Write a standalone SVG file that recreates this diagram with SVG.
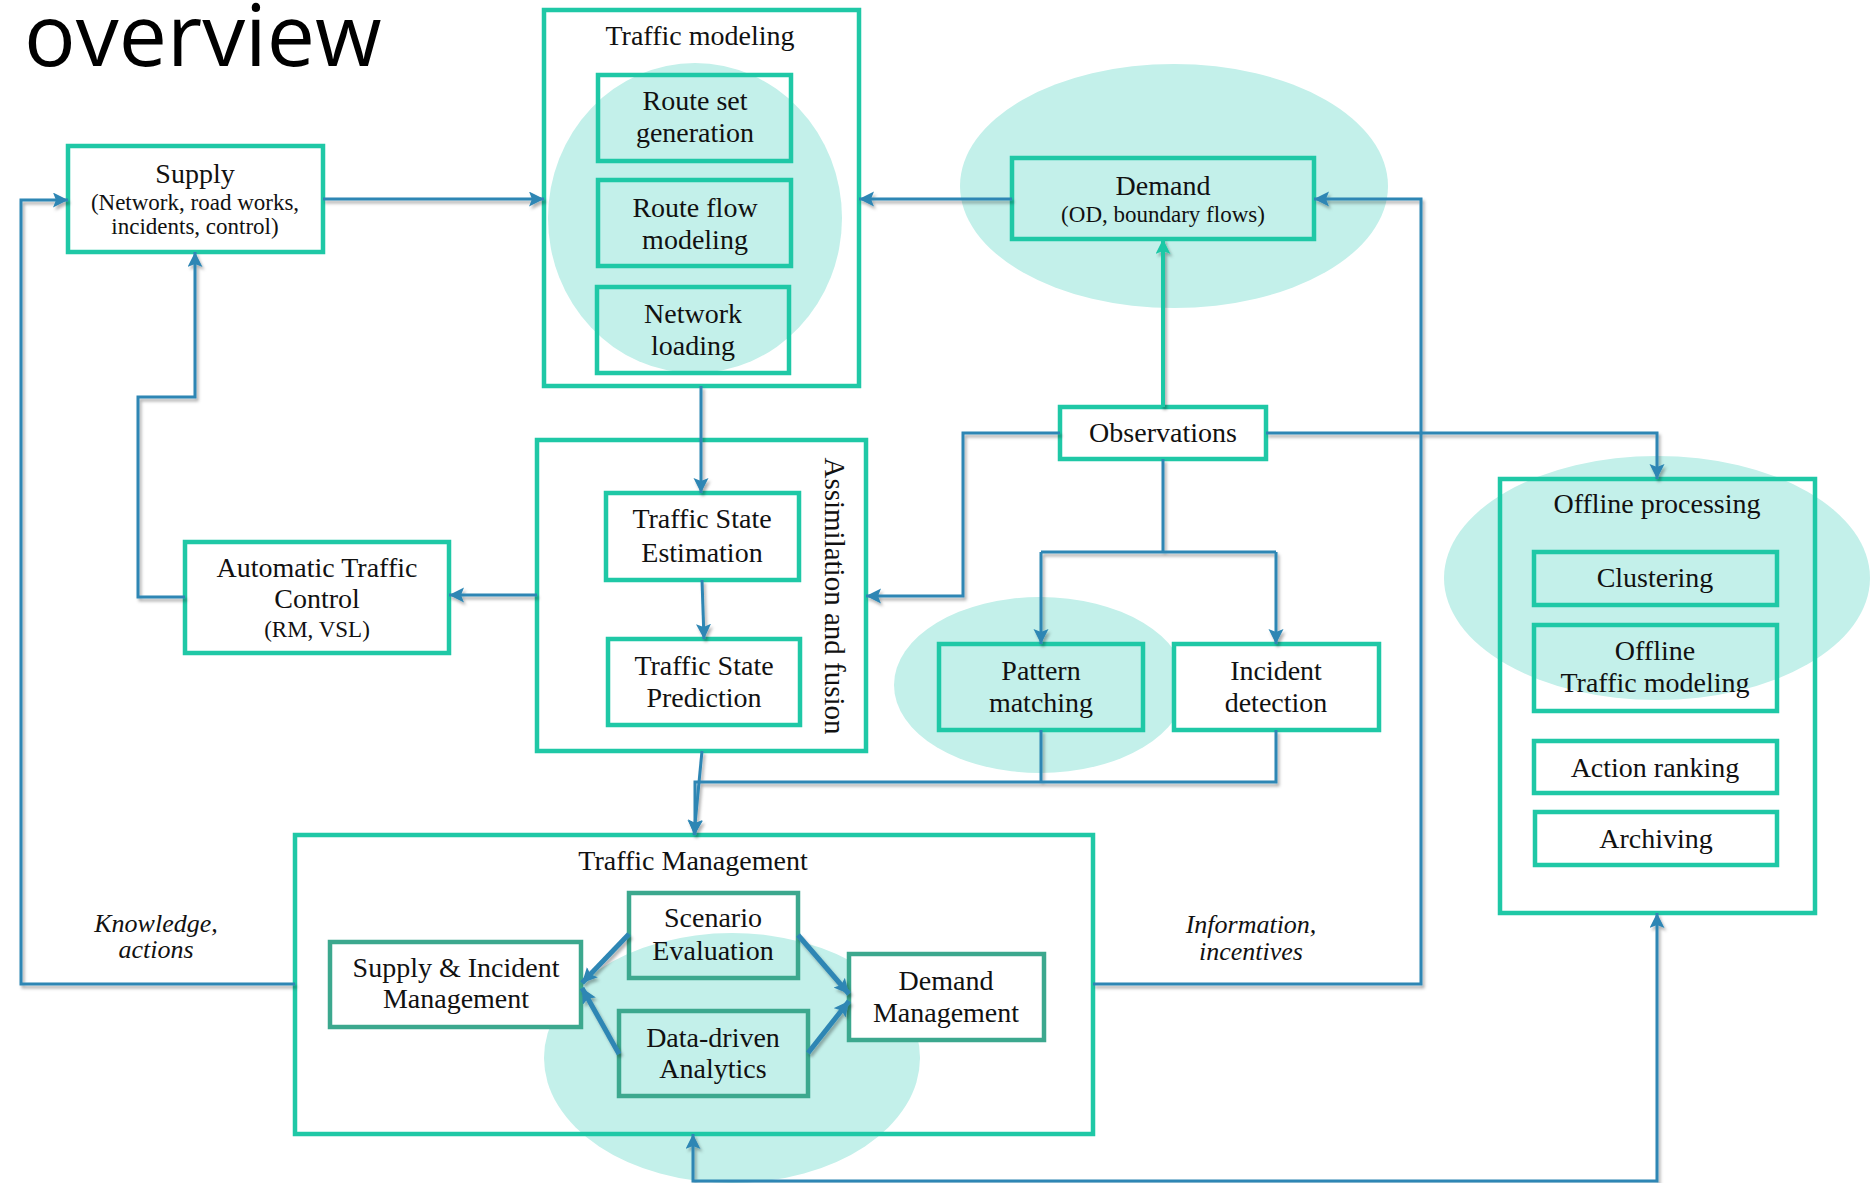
<svg xmlns="http://www.w3.org/2000/svg" width="1875" height="1183" viewBox="0 0 1875 1183">
<style>
.box{fill:none;stroke:#1FC8A6;stroke-width:4.5}
.boxw{fill:#fff;stroke:#1FC8A6;stroke-width:4.5}
.dbox{fill:none;stroke:#3CA88E;stroke-width:4.5}
.dboxw{fill:#fff;stroke:#3CA88E;stroke-width:4.5}
.hl{fill:#C3F0EA}
.t{font-family:"Liberation Serif","Times New Roman",serif;font-size:28px;fill:#111;text-anchor:middle}
.s{font-size:23px}
.it{font-style:italic;font-size:26px}
.c{fill:none;stroke:#2E86B4;stroke-width:3}
.cw{fill:none;stroke:#2E86B4;stroke-width:5}
.g{fill:none;stroke:#1FC8A6;stroke-width:4}
</style>
<defs>
<marker id="ab" markerUnits="userSpaceOnUse" markerWidth="16" markerHeight="16" refX="15" refY="7.5" orient="auto-start-reverse" viewBox="0 0 16 16">
<path d="M0,0 L15,7.5 L0,15 L3,7.5 z" fill="#2E86B4"/>
</marker>
<marker id="ag" markerUnits="userSpaceOnUse" markerWidth="16" markerHeight="16" refX="15" refY="7.5" orient="auto" viewBox="0 0 16 16">
<path d="M0,0 L15,7.5 L0,15 L3,7.5 z" fill="#1FC8A6"/>
</marker>
<filter id="sh" x="-5%" y="-5%" width="110%" height="110%">
<feDropShadow dx="2" dy="3" stdDeviation="1.5" flood-color="#000" flood-opacity="0.3"/>
</filter>
</defs>
<rect width="1875" height="1183" fill="#fff"/>
<text x="24" y="66" font-family="'Open Sans',sans-serif" font-size="86" fill="#000">overview</text>

<g id="highlights">
<ellipse class="hl" cx="695" cy="218" rx="147" ry="155"/>
<ellipse class="hl" cx="1174" cy="186" rx="214" ry="122"/>
<ellipse class="hl" cx="1040" cy="685" rx="146" ry="88"/>
<ellipse class="hl" cx="1657" cy="578" rx="213" ry="122"/>
<ellipse class="hl" cx="732" cy="1058" rx="188" ry="125"/>
</g>

<g id="supply">
<rect class="box" x="68" y="146" width="255" height="106"/>
<text class="t" x="195" y="183">Supply</text>
<text class="t s" x="195" y="210">(Network, road works,</text>
<text class="t s" x="195" y="234">incidents, control)</text>
</g>

<g id="traffic-modeling">
<rect class="box" x="544" y="10" width="315" height="376"/>
<text class="t" x="700" y="45">Traffic modeling</text>
</g>
<g id="route-set">
<rect class="box" x="598" y="75" width="193" height="86"/>
<text class="t" x="695" y="110">Route set</text>
<text class="t" x="695" y="142">generation</text>
</g>
<g id="route-flow">
<rect class="box" x="598" y="180" width="193" height="86"/>
<text class="t" x="695" y="217">Route flow</text>
<text class="t" x="695" y="249">modeling</text>
</g>
<g id="network-loading">
<rect class="box" x="597" y="287" width="192" height="86"/>
<text class="t" x="693" y="323">Network</text>
<text class="t" x="693" y="355">loading</text>
</g>

<g id="demand">
<rect class="box" x="1012" y="158" width="302" height="81"/>
<text class="t" x="1163" y="195">Demand</text>
<text class="t s" x="1163" y="222">(OD, boundary flows)</text>
</g>

<g id="observations">
<rect class="boxw" x="1060" y="407" width="206" height="52"/>
<text class="t" x="1163" y="442">Observations</text>
</g>

<g id="assimilation">
<rect class="box" x="537" y="440" width="329" height="311"/>
<text class="t" transform="translate(825,596) rotate(90)" style="font-size:29px">Assimilation and fusion</text>
</g>
<g id="tse">
<rect class="box" x="606" y="493" width="193" height="87"/>
<text class="t" x="702" y="528">Traffic State</text>
<text class="t" x="702" y="562">Estimation</text>
</g>
<g id="tsp">
<rect class="box" x="608" y="639" width="192" height="86"/>
<text class="t" x="704" y="675">Traffic State</text>
<text class="t" x="704" y="707">Prediction</text>
</g>

<g id="atc">
<rect class="box" x="185" y="542" width="264" height="111"/>
<text class="t" x="317" y="577">Automatic Traffic</text>
<text class="t" x="317" y="608">Control</text>
<text class="t s" x="317" y="637">(RM, VSL)</text>
</g>

<g id="pattern">
<rect class="box" x="939" y="644" width="204" height="86"/>
<text class="t" x="1041" y="680">Pattern</text>
<text class="t" x="1041" y="712">matching</text>
</g>
<g id="incident">
<rect class="boxw" x="1174" y="644" width="205" height="86"/>
<text class="t" x="1276" y="680">Incident</text>
<text class="t" x="1276" y="712">detection</text>
</g>

<g id="offline">
<rect class="box" x="1500" y="479" width="315" height="434"/>
<text class="t" x="1657" y="513">Offline processing</text>
</g>
<g id="clustering">
<rect class="box" x="1534" y="552" width="243" height="53"/>
<text class="t" x="1655" y="587">Clustering</text>
</g>
<g id="offline-tm">
<rect class="box" x="1534" y="625" width="243" height="86"/>
<text class="t" x="1655" y="660">Offline</text>
<text class="t" x="1655" y="692">Traffic modeling</text>
</g>
<g id="action-ranking">
<rect class="box" x="1534" y="741" width="243" height="52"/>
<text class="t" x="1655" y="777">Action ranking</text>
</g>
<g id="archiving">
<rect class="box" x="1535" y="812" width="242" height="53"/>
<text class="t" x="1656" y="848">Archiving</text>
</g>

<g id="traffic-management">
<rect class="box" x="295" y="835" width="798" height="299"/>
<text class="t" x="693" y="870">Traffic Management</text>
</g>
<g id="scenario">
<rect class="dbox" x="629" y="893" width="169" height="85"/>
<text class="t" x="713" y="927">Scenario</text>
<text class="t" x="713" y="960">Evaluation</text>
</g>
<g id="supply-incident">
<rect class="dboxw" x="330" y="942" width="251" height="85"/>
<text class="t" x="456" y="977">Supply &amp; Incident</text>
<text class="t" x="456" y="1008">Management</text>
</g>
<g id="data-driven">
<rect class="dbox" x="619" y="1011" width="189" height="85"/>
<text class="t" x="713" y="1047">Data-driven</text>
<text class="t" x="713" y="1078">Analytics</text>
</g>
<g id="demand-management">
<rect class="dboxw" x="849" y="954" width="195" height="86"/>
<text class="t" x="946" y="990">Demand</text>
<text class="t" x="946" y="1022">Management</text>
</g>

<g id="connectors" filter="url(#sh)">
<path class="c" d="M323,199 H544" marker-end="url(#ab)"/>
<path class="c" d="M1012,199 H859" marker-end="url(#ab)"/>
<path class="c" d="M295,984 H21 V200 H68" marker-end="url(#ab)"/>
<path class="c" d="M1093,984 H1421 V199 H1314" marker-end="url(#ab)"/>
<path class="g" d="M1163,407 V239" marker-end="url(#ag)"/>
<path class="c" d="M1060,433 H963 V596 H866" marker-end="url(#ab)"/>
<path class="c" d="M1266,433 H1657 V479" marker-end="url(#ab)"/>
<path class="c" d="M1163,459 V552 M1041,552 H1276"/>
<path class="c" d="M1041,552 V644" marker-end="url(#ab)"/>
<path class="c" d="M1276,552 V644" marker-end="url(#ab)"/>
<path class="c" d="M701,386 V493" marker-end="url(#ab)"/>
<path class="c" d="M702,580 L704,639" marker-end="url(#ab)"/>
<path class="c" d="M537,595 H449" marker-end="url(#ab)"/>
<path class="c" d="M185,597 H138 V397 H195 V252" marker-end="url(#ab)"/>
<path class="c" d="M1041,730 V782"/>
<path class="c" d="M1276,730 V782 H695 V835" marker-end="url(#ab)"/>
<path class="c" d="M702,751 L694,835" marker-end="url(#ab)"/>
<path class="c" d="M693,1134 V1181 H1657 V913" marker-start="url(#ab)" marker-end="url(#ab)"/>
<path class="cw" d="M629,934 L582,983" marker-end="url(#ab)"/>
<path class="cw" d="M619,1054 L582,988" marker-end="url(#ab)"/>
<path class="cw" d="M798,935 L849,994" marker-end="url(#ab)"/>
<path class="cw" d="M808,1053 L849,1001" marker-end="url(#ab)"/>
</g>

<g id="labels">
<text class="t it" x="156" y="932">Knowledge,</text>
<text class="t it" x="156" y="958">actions</text>
<text class="t it" x="1251" y="933">Information,</text>
<text class="t it" x="1251" y="960">incentives</text>
</g>
</svg>
